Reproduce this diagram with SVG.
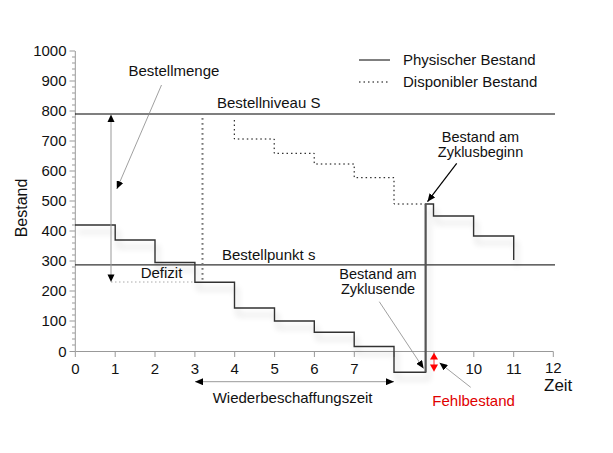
<svg xmlns="http://www.w3.org/2000/svg" width="613" height="453" viewBox="0 0 613 453">
<style>
text{font-family:"Liberation Sans",Arial,sans-serif;font-size:15px;fill:#111}
.yl{text-anchor:end}
.xl{text-anchor:middle}
.two{font-size:14.5px;text-anchor:middle}
.ax{stroke:#999;stroke-width:1;fill:none}
.tk{stroke:#999;stroke-width:1}
.ann{stroke:#888;stroke-width:0.8;fill:none}
</style>
<defs>
<marker id="ah" viewBox="0 0 8 7" refX="8" refY="3.5" markerWidth="8" markerHeight="7" markerUnits="userSpaceOnUse" orient="auto-start-reverse">
<path d="M0,0 L8,3.5 L0,7 z" fill="#000"/>
</marker>
<filter id="sh" x="-10%" y="-10%" width="130%" height="140%">
<feGaussianBlur in="SourceAlpha" stdDeviation="3"/>
<feOffset dx="3" dy="7" result="b"/>
<feComponentTransfer><feFuncA type="linear" slope="0.22"/></feComponentTransfer>
<feMerge><feMergeNode/><feMergeNode in="SourceGraphic"/></feMerge>
</filter>
</defs>
<rect width="613" height="453" fill="#fff"/>

<g id="axes">
<path class="ax" d="M75.3,51 V351.5 H553.3"/>
<g class="tk">
<path d="M69.5,51H75M69.5,81H75M69.5,111H75M69.5,141H75M69.5,171H75M69.5,201H75M69.5,231H75M69.5,261H75M69.5,291H75M69.5,321H75M69.5,351.5H75"/>
<path d="M72,57H75M72,63H75M72,69H75M72,75H75M72,87H75M72,93H75M72,99H75M72,105H75M72,117H75M72,123H75M72,129H75M72,135H75M72,147H75M72,153H75M72,159H75M72,165H75M72,177H75M72,183H75M72,189H75M72,195H75M72,207H75M72,213H75M72,219H75M72,225H75M72,237H75M72,243H75M72,249H75M72,255H75M72,267H75M72,273H75M72,279H75M72,285H75M72,297H75M72,303H75M72,309H75M72,315H75M72,327H75M72,333H75M72,339H75M72,345H75"/>
<path d="M75.3,351.5V357M115.2,351.5V357M155,351.5V357M194.9,351.5V357M234.7,351.5V357M274.6,351.5V357M314.4,351.5V357M354.3,351.5V357M394.1,351.5V357M434,351.5V357M473.8,351.5V357M513.7,351.5V357M553.3,351.5V357"/>
</g>
<text class="yl" x="66.5" y="56.3">1000</text>
<text class="yl" x="66.5" y="86.3">900</text>
<text class="yl" x="66.5" y="116.3">800</text>
<text class="yl" x="66.5" y="146.3">700</text>
<text class="yl" x="66.5" y="176.3">600</text>
<text class="yl" x="66.5" y="206.3">500</text>
<text class="yl" x="66.5" y="236.3">400</text>
<text class="yl" x="66.5" y="266.3">300</text>
<text class="yl" x="66.5" y="296.3">200</text>
<text class="yl" x="66.5" y="326.3">100</text>
<text class="yl" x="66.5" y="356.8">0</text>
<text class="xl" x="75.3" y="374">0</text>
<text class="xl" x="115.2" y="374">1</text>
<text class="xl" x="155" y="374">2</text>
<text class="xl" x="194.9" y="374">3</text>
<text class="xl" x="234.7" y="374">4</text>
<text class="xl" x="274.6" y="374">5</text>
<text class="xl" x="314.4" y="374">6</text>
<text class="xl" x="354.3" y="374">7</text>
<text class="xl" x="473.8" y="374">10</text>
<text class="xl" x="513.7" y="374">11</text>
<text class="xl" x="553.3" y="373">12</text>
<text x="544" y="390.5" style="font-size:17px">Zeit</text>
<text x="0" y="0" style="font-size:16px;text-anchor:middle" transform="translate(26.5,208) rotate(-90)">Bestand</text>
</g>

<g id="levels">
<line x1="75" y1="114" x2="555" y2="114" stroke="#000" stroke-width="1.2"/>
<text x="217" y="108">Bestellniveau S</text>
<line x1="75" y1="264.8" x2="555" y2="264.8" stroke="#333" stroke-width="1.2"/>
<text x="222" y="259.5">Bestellpunkt s</text>
</g>

<g id="legend">
<line x1="359" y1="60" x2="390" y2="60" stroke="#000" stroke-width="1"/>
<text x="403" y="65">Physischer Bestand</text>
<line x1="359" y1="82" x2="390" y2="82" stroke="#000" stroke-width="1" stroke-dasharray="1.5 3"/>
<text x="403" y="86.5">Disponibler Bestand</text>
</g>

<g id="physischer-bestand">
<path d="M75,225 H115.2 V240 H155 V262.5 H194.9 V282.3 H234.5 V308 H274.5 V321 H314.3 V332.3 H354.2 V346.5 H394 V372.3 H425.6 V204 H433.5 V216 H473.6 V236 H513.7 V260" fill="none" stroke="#333" stroke-width="1.4" filter="url(#sh)"/>
<line x1="425.6" y1="204" x2="425.6" y2="372.3" stroke="#555" stroke-width="2"/>
</g>

<g id="disponibler-bestand">
<line x1="202.5" y1="118" x2="202.5" y2="282" stroke="#777" stroke-width="2" stroke-dasharray="1.8 3.2"/>
<path d="M234.3,120 V139 H274.2 V153.3 H314.2 V164 H354.2 V177.7 H394 V204 H425" fill="none" stroke="#000" stroke-width="1" stroke-dasharray="1.5 3"/>
<line x1="111" y1="282" x2="195" y2="282" stroke="#aaa" stroke-width="1" stroke-dasharray="1.5 2.5"/>
</g>

<g id="connectors">
<line x1="111" y1="119" x2="111" y2="278" stroke="#999" stroke-width="1"/>
<path d="M111,114.5 L107.5,122 L114.5,122 z" fill="#000"/>
<path d="M111,282 L107.5,274.5 L114.5,274.5 z" fill="#000"/>
<line class="ann" x1="161.5" y1="85" x2="116.8" y2="189" marker-end="url(#ah)"/>
<line x1="456.7" y1="163.3" x2="427.5" y2="201.7" stroke="#000" stroke-width="1.2" marker-end="url(#ah)"/>
<line class="ann" x1="379.3" y1="301.7" x2="423.6" y2="368.5" marker-end="url(#ah)"/>
<line class="ann" x1="470.7" y1="387.3" x2="439.5" y2="362.8" marker-end="url(#ah)"/>
<line x1="195" y1="381.7" x2="394" y2="381.7" stroke="#999" stroke-width="1" marker-start="url(#ah)" marker-end="url(#ah)"/>
<line x1="434" y1="356" x2="434" y2="368" stroke="#f00" stroke-width="0.8"/>
<path d="M434,352.7 L430,359.5 L438,359.5 z" fill="#f00"/>
<path d="M434,371.7 L430,364.5 L438,364.5 z" fill="#f00"/>
</g>

<g id="labels">
<text x="128.5" y="75.5">Bestellmenge</text>
<text x="140.7" y="278">Defizit</text>
<text class="two" x="480.5" y="142">Bestand am</text>
<text class="two" x="480.5" y="157">Zyklusbeginn</text>
<text class="two" x="378" y="279">Bestand am</text>
<text class="two" x="378" y="294">Zyklusende</text>
<text x="212.7" y="402.5">Wiederbeschaffungszeit</text>
<text x="432.3" y="405.7" style="fill:#e00000">Fehlbestand</text>
</g>
</svg>
